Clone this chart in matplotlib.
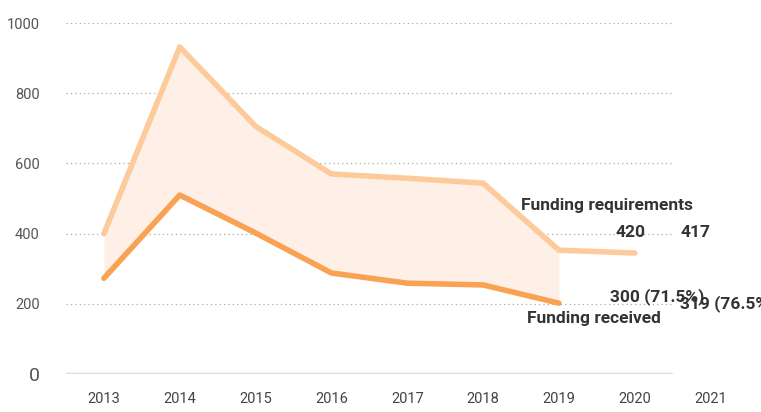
import matplotlib
matplotlib.use("Agg")
import matplotlib.pyplot as plt
from matplotlib import font_manager

years = [2013, 2014, 2015, 2016, 2017, 2018, 2019, 2020]
requirements = [400, 932, 706, 570, 558, 544, 353, 345]
received_years = [2013, 2014, 2015, 2016, 2017, 2018, 2019]
received = [273, 510, 402, 288, 259, 254, 202]
xtick_labels = ['2013', '2014', '2015', '2016', '2017', '2018', '2019', '2020', '2021']
yticks = [0, 200, 400, 600, 800, 1000]

names = {f.name for f in font_manager.fontManager.ttflist}
font = 'Liberation Sans Narrow' if 'Liberation Sans Narrow' in names else 'Roboto'
plt.rcParams['font.family'] = [font, 'DejaVu Sans']

fig = plt.figure(figsize=(7.61, 4.12), dpi=100)
ax = fig.add_axes([0.0867, 0.092, 0.7973, 0.852])

ax.fill_between(received_years, received, requirements[:len(received_years)],
                color='#fef0e6', linewidth=0)
ax.plot(years, requirements, color='#fdcb9b', linewidth=4, solid_capstyle='round')
ax.plot(received_years, received, color='#f9a253', linewidth=4, solid_capstyle='round')

ax.set_xlim(2012.5, 2020.5)
ax.set_ylim(0, 1000)
for y in yticks[1:]:
    ax.axhline(y, color='#aaaaaa', linewidth=0.9, linestyle=(0, (1, 2.5)), zorder=0)
ax.axhline(0, color='#dddddd', linewidth=2.5, zorder=0)

for s in ax.spines.values():
    s.set_visible(False)
ax.tick_params(length=0)
ax.set_yticks(yticks)
ax.set_yticklabels([str(v) for v in yticks], color='#555555', fontsize=10.5)
ax.get_yticklabels()[0].set_fontsize(14)
ax.tick_params(axis='y', pad=19)
ax.set_xticks([])
for yr, lab in zip(range(2013, 2022), xtick_labels):
    ax.text(yr, -50, lab, ha='center', va='top', fontsize=10.5, color='#444444', clip_on=False)

bold = dict(fontweight='bold', color='#333333', fontsize=12.5, clip_on=False)
ax.text(2018.5, 480, 'Funding requirements', ha='left', va='center', **bold)
ax.text(2019.95, 404, '420', ha='center', va='center', **bold)
ax.text(2020.6, 404, '417', ha='left', va='center', **bold)
ax.text(2020.3, 222, '300 (71.5%)', ha='center', va='center', **bold)
ax.text(2020.6, 200, '319 (76.5%)', ha='left', va='center', **bold)
ax.text(2018.58, 158, 'Funding received', ha='left', va='center', **bold)

fig.savefig('out.png', dpi=100)
